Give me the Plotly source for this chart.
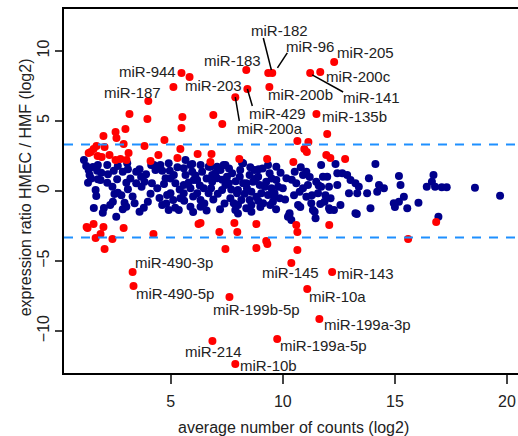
import plotly.graph_objects as go

# ---- data ----
blue_x = [1.13,1.23,1.34,1.38,1.31,1.53,1.75,1.72,1.75,1.65,1.68,1.57,2.02,1.97,2.17,2.17,1.87,2.46,2.61,2.64,2.86,3.09,3.06,2.49,2.64,2.42,3.02,3.09,2.94,2.86,3.02,2.57,3.46,3.61,3.68,3.46,3.83,3.61,3.98,4.13,4.16,3.39,
          4.25,4.32,4.54,4.62,4.77,4.91,4.96,5.14,5.21,4.84,4.99,5.11,4.62,4.91,5.36,5.43,5.58,5.66,5.58,5.58,5.88,5.96,6.03,5.88,6.18,6.33,6.47,5.88,6.33,6.18,6.4,6.69,6.85,6.85,6.69,7.07,7.22,7.36,7.51,7.44,7.74,7.66,7.81,7.88,7.96,7.59,7.29,
          8.23,8.08,8.0,8.15,8.37,8.52,8.67,8.6,8.52,8.37,8.6,8.74,8.9,8.97,8.82,9.04,9.34,9.41,9.26,9.49,9.34,9.12,9.71,9.79,9.63,9.86,10.16,10.3,10.23,10.53,10.6,10.75,10.68,10.9,11.05,11.12,11.05,11.27,11.49,11.57,11.42,11.71,11.79,11.71,11.86,8.23,9.56,
          12.35,11.98,12.06,12.13,12.06,12.28,12.43,12.65,12.87,12.43,13.02,13.24,13.39,12.95,13.32,13.24,13.84,13.76,13.91,14.13,14.29,14.21,14.51,15.18,15.25,15.4,15.18,14.95,15.55,12.57,
          10.29,10.38,11.34,11.46,9.0,9.44,10.78,11.67,12.1,13.3,15.0,16.05,
          16.72,16.65,16.42,16.79,17.09,17.31,18.57,19.69,16.94,
          4.4,4.7,4.5,4.8,5.0,5.3,5.4,5.6,5.8,6.0,6.1,6.3,6.5,6.6,6.8,6.9,7.0,7.1,7.3,7.4,7.6,7.7,7.9,8.0,8.1,8.3,8.4,8.6,8.8,8.9,9.1,9.2,9.5,9.6,9.9,10.0,10.1,10.4,10.5,10.8,10.9,11.2,11.3,11.6,11.9,
          2.2,2.4,2.8,3.2,3.3,3.7,3.9,4.1,1.45,1.9,2.3,3.8,5.2,6.0,6.6,7.2,8.0,9.7,
          5.66,5.96,6.33,6.77,7.07,7.44,8.18,8.55,8.92,9.71]
blue_y = [2.21,1.79,1.5,1.14,0.59,1.71,1.86,1.45,0.84,0.07,-0.36,-1.21,-1.21,-1.55,1.86,0.59,0.79,1.45,0.84,1.79,1.38,1.55,1.98,-0.21,-0.12,-0.76,0.59,0.12,-0.84,-1.31,-1.12,-1.84,1.38,1.55,1.02,0.55,0.66,-1.48,-0.76,1.86,0.55,-0.88,
          1.86,1.5,1.86,1.45,0.91,1.98,1.45,1.14,0.55,-0.29,-0.16,-0.64,-1.0,-1.36,-1.36,-0.52,1.62,1.14,0.43,-0.16,1.86,1.38,0.79,0.19,-0.16,-0.64,0.19,-1.12,-1.12,0.79,1.38,1.74,1.14,0.66,-0.16,0.91,1.5,1.86,1.02,0.43,1.26,-0.52,-0.88,-1.36,-0.16,0.55,0.07,
          1.98,1.02,0.07,-0.64,0.55,1.14,0.66,-0.05,-0.64,-1.24,-1.48,1.5,1.02,0.43,-0.41,-0.16,1.86,1.26,0.66,0.19,-0.29,-0.88,0.79,0.31,-0.16,-0.52,0.91,-1.59,-1.84,1.38,0.55,-0.05,-1.0,1.14,1.38,0.43,-0.41,-0.88,0.66,-0.16,-1.48,1.86,1.02,0.31,-0.76,0.55,-0.76,
          1.93,1.02,0.31,-0.52,-1.24,-1.36,1.26,1.26,1.14,0.43,0.79,0.55,0.31,-0.16,-0.16,-1.59,0.91,-0.16,-1.24,1.93,0.43,-0.05,0.19,1.07,0.43,-0.41,-0.76,-0.88,-1.24,-1.0,
          -1.71,-2.07,-1.36,-1.95,-1.14,-1.0,-1.14,-0.93,-1.36,-1.64,-1.14,-0.84,
          1.14,0.66,0.31,0.31,0.26,0.26,0.24,-0.34,-1.84,
          0.2,0.5,-0.5,-0.9,0.9,1.7,0.1,-0.7,0.6,-0.4,1.1,0.4,-0.9,0.9,0.2,-0.6,1.3,-0.2,0.8,-0.9,1.6,0.1,0.7,-1.0,1.5,-0.2,0.2,-1.0,0.9,-0.7,1.6,0.3,0.9,-0.4,1.3,0.2,-0.6,0.8,-0.3,1.7,0.2,1.0,-0.3,0.4,-0.3,
          1.2,0.3,-0.3,0.9,-0.4,0.3,1.2,-0.2,0.9,1.3,-1.0,-1.2,-1.2,-1.5,-1.4,-1.3,-1.6,-1.3,
          2.21,1.93,1.86,1.74,1.74,1.86,2.02,1.69,1.55,1.74]

red_x = [5.48,5.84,5.12,4.0,8.37,8.42,7.88,9.35,9.53,9.4,12.29,11.67,11.22,11.5,
         3.16,3.96,5.52,6.9,7.3,5.48,2.98,2.54,2.0,2.58,4.72,2.9,3.83,1.69,1.56,1.43,1.34,2.05,5.43,3.12,6.82,6.2,4.45,1.74,2.27,2.76,5.3,6.77,8.06,3.03,2.54,4.1,1.92,
         11.98,10.65,11.14,10.96,11.07,11.94,12.12,12.78,10.47,9.3,
         3.3,3.34,7.62,6.86,7.88,10.38,12.2,11.09,11.63,9.75,
         1.25,1.29,1.56,2.0,1.87,1.65,2.4,2.9,2.05,4.23,6.24,6.33,7.17,7.84,7.97,7.44,8.82,8.82,10.6,10.65,12.07,9.26,9.31,10.65,15.59,16.84]
red_y = [8.43,8.14,7.43,6.43,8.64,7.29,6.7,8.43,8.43,7.43,9.21,8.5,8.43,5.5,
         5.5,5.14,5.29,5.43,4.79,4.5,4.43,4.21,3.93,3.79,3.64,3.36,3.21,3.21,3.0,2.79,2.71,3.14,3.0,2.71,2.64,2.64,2.57,2.5,2.57,2.29,2.36,2.07,2.29,2.21,2.21,2.14,2.43,
         4.07,3.57,3.5,3.0,2.79,2.57,2.36,2.29,2.07,2.29,
         -5.79,-6.79,-7.57,-10.71,-12.36,-5.14,-5.79,-7.0,-9.14,-10.57,
         -2.57,-2.64,-2.36,-2.57,-3.07,-3.36,-3.43,-2.64,-4.14,-3.07,-2.36,-2.29,-2.93,-2.29,-2.93,-4.14,-4.07,-2.36,-2.43,-2.93,-2.43,-3.57,-3.79,-4.21,-3.43,-2.21]

label_names = ["miR-944","miR-187","miR-203","miR-183","miR-182","miR-96","miR-205","miR-200c","miR-141",
               "miR-200b","miR-429","miR-200a","miR-135b","miR-490-3p","miR-490-5p","miR-199b-5p","miR-214",
               "miR-10b","miR-145","miR-143","miR-10a","miR-199a-3p","miR-199a-5p"]
label_x = [2.67,2.0,5.57,6.46,8.55,10.11,12.38,11.89,12.65,9.31,8.46,7.93,11.71,3.34,3.39,6.86,5.57,8.06,9.04,12.38,11.14,11.8,9.84]
label_y = [8.57,7.07,7.57,9.29,11.5,10.29,9.86,8.21,6.71,6.86,5.55,4.5,5.29,-5.14,-7.29,-8.43,-11.43,-12.43,-5.79,-5.86,-7.57,-9.57,-11.07]

# leader lines: (x0, y0) -> (x1, y1)
leader_x0 = [9.13,10.2,11.31,8.42,7.88]
leader_y0 = [10.93,9.86,8.29,7.29,6.71]
leader_x1 = [9.49,9.76,12.69,8.64,8.06]
leader_y1 = [8.64,8.79,7.07,6.07,5.0]

threshold = 3.32
x_ticks = [5, 10, 15, 20]
y_ticks = [-10, -5, 0, 5, 10]

FONT = "Liberation Sans, Arial, Helvetica, sans-serif"

fig = go.Figure()
fig.add_trace(go.Scatter(x=blue_x, y=blue_y, mode="markers",
                         marker=dict(color="#00008B", size=8, line=dict(width=0)),
                         hoverinfo="skip", showlegend=False))
fig.add_trace(go.Scatter(x=red_x, y=red_y, mode="markers",
                         marker=dict(color="#FF0000", size=8, line=dict(width=0)),
                         hoverinfo="skip", showlegend=False))

for t in (threshold, -threshold):
    fig.add_shape(type="line", xref="paper", x0=0, x1=1, yref="y", y0=t, y1=t,
                  line=dict(color="#1E90FF", width=2, dash="9px,8px"))

for x0, y0, x1, y1 in zip(leader_x0, leader_y0, leader_x1, leader_y1):
    fig.add_shape(type="line", x0=x0, y0=y0, x1=x1, y1=y1,
                  line=dict(color="black", width=1.5))

for n, lx, ly in zip(label_names, label_x, label_y):
    fig.add_annotation(x=lx, y=ly, text=n, showarrow=False, xanchor="left", yanchor="middle",
                       font=dict(family=FONT, size=15, color="#222"), borderpad=0)

fig.add_annotation(xref="paper", yref="paper", x=0, y=0.51, xshift=-39, xanchor="center", yanchor="middle",
                   text="expression ratio HMEC / HMF (log2)", textangle=-90, showarrow=False,
                   font=dict(family=FONT, size=16, color="#222"))
fig.add_annotation(xref="x", yref="paper", x=10.49, y=0, yshift=-54, xanchor="center", yanchor="middle",
                   text="average number of counts (log2)", showarrow=False,
                   font=dict(family=FONT, size=16, color="#222"))

fig.update_layout(
    width=518, height=436,
    margin=dict(l=64, r=0, t=9, b=63, autoexpand=False),
    paper_bgcolor="white", plot_bgcolor="white",
    font=dict(family=FONT, size=16, color="#222"),
    xaxis=dict(range=[0.24, 20.49], tickvals=x_ticks, ticks="outside", ticklen=9, tickwidth=1.5,
               showline=True, linewidth=2, linecolor="black", mirror=True, showgrid=False,
               zeroline=False, ticklabelstandoff=4, automargin=False),
    yaxis=dict(range=[-13, 13], tickvals=y_ticks, ticks="outside", ticklen=7, tickwidth=1.5,
               showline=True, linewidth=2, linecolor="black", mirror=False, showgrid=False,
               zeroline=False, tickangle=-90, automargin=False),
)

fig.write_html("out.html", config={"displayModeBar": False},
               post_script="document.body.style.margin='0';")
